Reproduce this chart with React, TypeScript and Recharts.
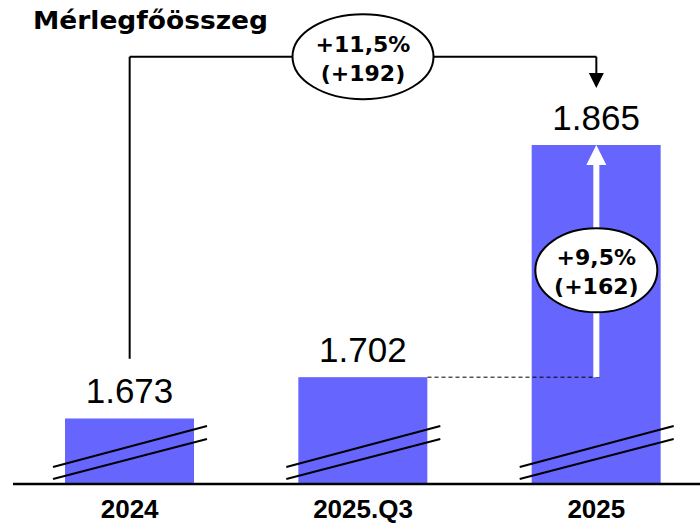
import React from 'react';
import { BarChart, Bar, XAxis, YAxis, LabelList, ReferenceLine, ReferenceDot } from 'recharts';

const categories = ['2024', '2025.Q3', '2025'];
const values = [1673, 1702, 1865];
const yDomain = [1627, 1865];
const title = 'Mérlegfőösszeg';
const totalChangeLines = ['+11,5%', '(+192)'];
const q4ChangeLines = ['+9,5%', '(+162)'];
// annotation levels, in value units of the (broken) axis
const connectorLevel = 1927;
const connectorStartLevel = 1715;
const connectorTipLevel = 1905;
const innerBubbleLevel = 1777;
const whiteArrowBaseLevel = 1852;

const data = categories.map((c, i) => ({ name: c, value: values[i] }));

const BAR_SIZE = 129;
const BAR_COLOR = '#6666FF';

const fmt = (v: number) => {
  const s = String(v);
  return s.length > 3 ? s.slice(0, s.length - 3) + '.' + s.slice(s.length - 3) : s;
};

const BreakBar = (props: any) => {
  const { x, y, width, height, fill } = props;
  const bottom = y + height;
  return (
    <g>
      <rect x={x} y={y} width={width} height={height} fill={fill} />
      <line x1={x - 12} y1={bottom - 17} x2={x + width + 13} y2={bottom - 58} stroke="#000" strokeWidth={2} />
      <line x1={x - 12} y1={bottom - 5} x2={x + width + 13} y2={bottom - 45} stroke="#000" strokeWidth={2} />
    </g>
  );
};

const makeBubble = (lines: string[], rx: number, ry: number) => (p: any) => (
  <g>
    <ellipse cx={p.cx} cy={p.cy} rx={rx} ry={ry} fill="#fff" stroke="#000" strokeWidth={2} />
    <text x={p.cx} y={p.cy - 5} textAnchor="middle" fontFamily="DejaVu Sans" fontWeight="bold" fontSize={22} fill="#000">
      {lines[0]}
    </text>
    <text x={p.cx} y={p.cy + 24} textAnchor="middle" fontFamily="DejaVu Sans" fontWeight="bold" fontSize={22} fill="#000">
      {lines[1]}
    </text>
  </g>
);

const BlackArrowHead = (p: any) => (
  <polygon points={`${p.cx - 7.5},${p.cy - 15} ${p.cx + 7.5},${p.cy - 15} ${p.cx},${p.cy}`} fill="#000" />
);

const WhiteArrowHead = (p: any) => (
  <polygon points={`${p.cx},${p.cy} ${p.cx - 10},${p.cy + 20} ${p.cx + 10},${p.cy + 20}`} fill="#fff" />
);

const DashedShape = (p: any) => (
  <line
    x1={p.x1 + BAR_SIZE / 2}
    y1={p.y1}
    x2={p.x2 + 6}
    y2={p.y2}
    stroke="#000"
    strokeWidth={1}
    strokeDasharray="4 3"
  />
);

export default function App() {
  return (
    <div style={{ position: 'absolute', left: 0, top: 0, width: 700, height: 526, overflow: 'hidden', background: '#fff' }}>
      <BarChart
        width={713}
        height={526}
        data={data}
        margin={{ top: 145, right: 0, left: 13, bottom: 0 }}
      >
        <XAxis
          dataKey="name"
          height={42}
          axisLine={{ stroke: '#000', strokeWidth: 2.5 }}
          tickLine={false}
          tickSize={0}
          tickMargin={16}
          tick={{ fill: '#000', fontFamily: 'Liberation Sans', fontWeight: 'bold', fontSize: 26 }}
          interval={0}
        />
        <YAxis hide type="number" domain={yDomain} allowDataOverflow />
        <ReferenceLine
          segment={[{ x: '2025.Q3', y: values[1] }, { x: '2025', y: values[1] }]}
          ifOverflow="visible"
          shape={DashedShape}
        />
        <Bar dataKey="value" fill={BAR_COLOR} barSize={BAR_SIZE} shape={BreakBar} isAnimationActive={false}>
          <LabelList
            dataKey="value"
            position="top"
            offset={15}
            formatter={(v: any) => fmt(Number(v))}
            fill="#000"
            fontFamily="Liberation Sans"
            fontSize={35}
          />
        </Bar>
        <ReferenceLine
          segment={[
            { x: '2024', y: connectorStartLevel },
            { x: '2024', y: connectorLevel },
          ]}
          ifOverflow="visible"
          stroke="#000"
          strokeWidth={2}
        />
        <ReferenceLine
          segment={[
            { x: '2024', y: connectorLevel },
            { x: '2025', y: connectorLevel },
          ]}
          ifOverflow="visible"
          stroke="#000"
          strokeWidth={2}
        />
        <ReferenceLine
          segment={[
            { x: '2025', y: connectorLevel },
            { x: '2025', y: connectorTipLevel + 3 },
          ]}
          ifOverflow="visible"
          stroke="#000"
          strokeWidth={2}
        />
        <ReferenceLine
          segment={[
            { x: '2025', y: values[1] },
            { x: '2025', y: whiteArrowBaseLevel },
          ]}
          ifOverflow="visible"
          stroke="#fff"
          strokeWidth={6}
        />
        <ReferenceDot x="2025" y={connectorTipLevel} r={8} ifOverflow="visible" shape={BlackArrowHead} />
        <ReferenceDot x="2025" y={values[2]} r={8} ifOverflow="visible" shape={WhiteArrowHead} />
        <ReferenceDot x="2025.Q3" y={connectorLevel} r={40} ifOverflow="visible" shape={makeBubble(totalChangeLines, 70.5, 42.5)} />
        <ReferenceDot x="2025" y={innerBubbleLevel} r={40} ifOverflow="visible" shape={makeBubble(q4ChangeLines, 61, 42)} />
      </BarChart>
      <svg width={700} height={40} style={{ position: 'absolute', left: 0, top: 0 }}>
        <text
          x={33}
          y={29}
          fontFamily="DejaVu Sans"
          fontWeight="bold"
          fontSize={24}
          fill="#000"
          textLength={235}
          lengthAdjust="spacingAndGlyphs"
        >
          {title}
        </text>
      </svg>
    </div>
  );
}
